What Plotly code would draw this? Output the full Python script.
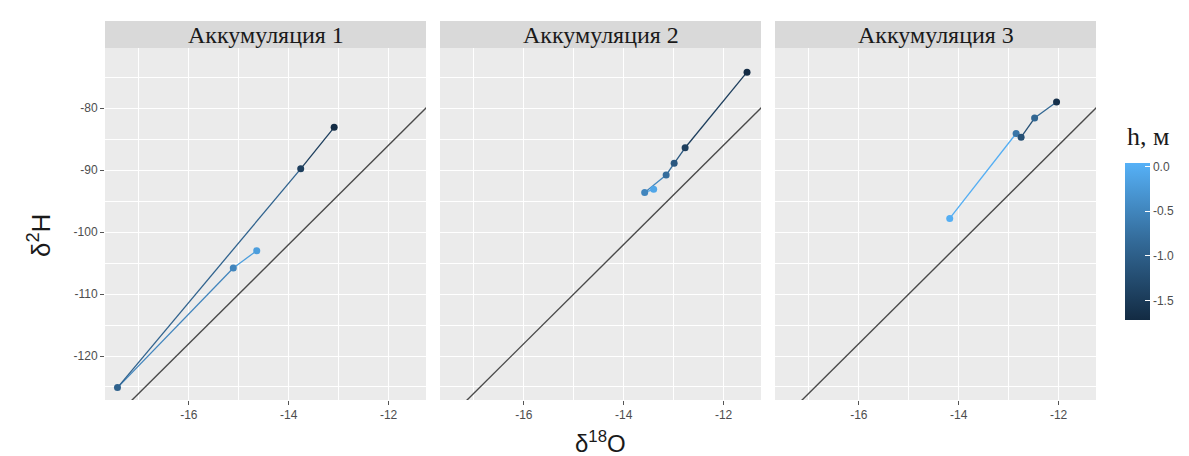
import plotly.graph_objects as go

W, H = 1189, 456

# ---- data ----
panels = ["Аккумуляция 1", "Аккумуляция 2", "Аккумуляция 3"]

d18O_1 = [-14.64, -15.11, -17.43, -13.76, -13.09]
d2H_1 = [-103.0, -105.8, -125.1, -89.8, -83.1]
h_1 = [-0.2, -0.5, -0.95, -1.45, -1.7]

d18O_2 = [-13.40, -13.58, -13.15, -12.99, -12.77, -11.53]
d2H_2 = [-93.1, -93.6, -90.8, -88.9, -86.4, -74.2]
h_2 = [-0.1, -0.5, -0.8, -1.1, -1.45, -1.7]

d18O_3 = [-14.18, -12.85, -12.75, -12.48, -12.04]
d2H_3 = [-97.8, -84.1, -84.7, -81.6, -79.0]
h_3 = [0.0, -0.7, -1.2, -0.9, -1.65]

gmwl_slope = 8
gmwl_intercept = 10
gmwl_x = [-18.5, -10.5]

x_ticks = [-16, -14, -12]
x_ticklabels = ["-16", "-14", "-12"]
y_ticks = [-120, -110, -100, -90, -80]
y_ticklabels = ["-120", "-110", "-100", "-90", "-80"]
h_ticks = [0.0, -0.5, -1.0, -1.5]
h_ticklabels = ["0.0", "-0.5", "-1.0", "-1.5"]

# ---- style ----
H_MIN, H_MAX = -1.72, 0.04
LOW, MID, HIGH = (0x13, 0x2B, 0x43), (0x33, 0x6A, 0x98), (0x56, 0xB1, 0xF7)
colorscale = [[0, "#132B43"], [0.5, "#336A98"], [1, "#56B1F7"]]


def hcolor(h):
    t = (h - H_MIN) / (H_MAX - H_MIN)
    t = min(max(t, 0), 1)
    if t < 0.5:
        a, b, u = LOW, MID, t / 0.5
    else:
        a, b, u = MID, HIGH, (t - 0.5) / 0.5
    c = [round(a[i] + (b[i] - a[i]) * u) for i in range(3)]
    return "rgb(%d,%d,%d)" % tuple(c)


def px_x(p):
    return p / W


def px_y(p):
    return 1 - p / H


XR = [-17.68, -11.25]
YR = [-127.1, -70.3]
doms = [(97, 418), (432, 753), (767, 1088)]
ydom = [px_y(392), px_y(40)]

data = [(d18O_1, d2H_1, h_1), (d18O_2, d2H_2, h_2), (d18O_3, d2H_3, h_3)]

fig = go.Figure()
tickfont = dict(family="Liberation Sans, Arial", size=12, color="#4D4D4D")

for i, (xs, ys, hs) in enumerate(data):
    k = "" if i == 0 else str(i + 1)
    xa, ya = "x" + k, "y" + k
    # GMWL
    fig.add_trace(go.Scatter(
        x=gmwl_x, y=[gmwl_slope * v + gmwl_intercept for v in gmwl_x],
        mode="lines", line=dict(color="#4A4A4A", width=1.4),
        xaxis=xa, yaxis=ya, showlegend=False, hoverinfo="skip"))
    # path segments
    for j in range(len(xs) - 1):
        fig.add_trace(go.Scatter(
            x=[xs[j], xs[j + 1]], y=[ys[j], ys[j + 1]], mode="lines",
            line=dict(color=hcolor(hs[j]), width=1.3),
            xaxis=xa, yaxis=ya, showlegend=False, hoverinfo="skip"))
    # points
    fig.add_trace(go.Scatter(
        x=xs, y=ys, mode="markers",
        marker=dict(size=7, color=hs, colorscale=colorscale, cmin=H_MIN, cmax=H_MAX,
                    showscale=(i == 0),
                    colorbar=dict(x=px_x(1117), xanchor="left", xpad=0, ypad=0,
                                  y=px_y(233.5), yanchor="middle",
                                  len=157, lenmode="pixels", thickness=25,
                                  outlinewidth=0, tickvals=h_ticks, ticktext=h_ticklabels,
                                  ticks="inside", tickcolor="white", ticklen=5,
                                  tickfont=tickfont)),
        xaxis=xa, yaxis=ya, showlegend=False))

    d0, d1 = doms[i]
    fig.update_layout(**{
        "xaxis" + k: dict(domain=[px_x(d0), px_x(d1)], range=XR, anchor=ya,
                          tickvals=x_ticks, ticktext=x_ticklabels,
                          ticks="outside", ticklen=4, tickcolor="#555555",
                          tickfont=tickfont, showgrid=True, gridcolor="white", gridwidth=1.4,
                          zeroline=False, showline=False,
                          minor=dict(dtick=2, tick0=-17, showgrid=True, gridcolor="white",
                                     gridwidth=0.7)),
        "yaxis" + k: dict(domain=ydom, range=YR, anchor=xa,
                          tickvals=y_ticks, ticktext=y_ticklabels,
                          ticks="outside" if i == 0 else "",
                          showticklabels=(i == 0), ticklen=4, tickcolor="#555555",
                          tickfont=tickfont, showgrid=True, gridcolor="white", gridwidth=1.4,
                          zeroline=False, showline=False,
                          minor=dict(dtick=10, tick0=-75, showgrid=True, gridcolor="white",
                                     gridwidth=0.7)),
    })
    # strip
    fig.add_shape(type="rect", xref="paper", yref="paper",
                  x0=px_x(d0), x1=px_x(d1), y0=px_y(40), y1=px_y(13),
                  fillcolor="#D9D9D9", line=dict(width=0), layer="below")
    fig.add_annotation(xref="paper", yref="paper", x=px_x((d0 + d1) / 2), y=px_y(27),
                       text=panels[i], showarrow=False, xanchor="center", yanchor="middle",
                       font=dict(family="Liberation Serif, Times New Roman", size=24,
                                 color="#1A1A1A"))

# axis titles
fig.add_annotation(xref="paper", yref="paper", x=px_x(592), y=px_y(451),
                   text="δ<sup>18</sup>O", showarrow=False, xanchor="center", yanchor="bottom",
                   font=dict(family="Liberation Sans, Arial", size=24, color="#1A1A1A"))
fig.add_annotation(xref="paper", yref="paper", x=px_x(31), y=px_y(228),
                   text="δ<sup>2</sup>H", showarrow=False, textangle=-90,
                   xanchor="center", yanchor="middle",
                   font=dict(family="Liberation Sans, Arial", size=26, color="#1A1A1A"))
# legend title
fig.add_annotation(xref="paper", yref="paper", x=px_x(1140), y=px_y(128),
                   text="h, м", showarrow=False, xanchor="center", yanchor="middle",
                   font=dict(family="Liberation Serif, Times New Roman", size=26,
                             color="#1A1A1A"))

fig.update_layout(width=W, height=H, margin=dict(l=0, r=0, t=0, b=0),
                  paper_bgcolor="white", plot_bgcolor="#EBEBEB", showlegend=False)

fig.write_html("out.html")
